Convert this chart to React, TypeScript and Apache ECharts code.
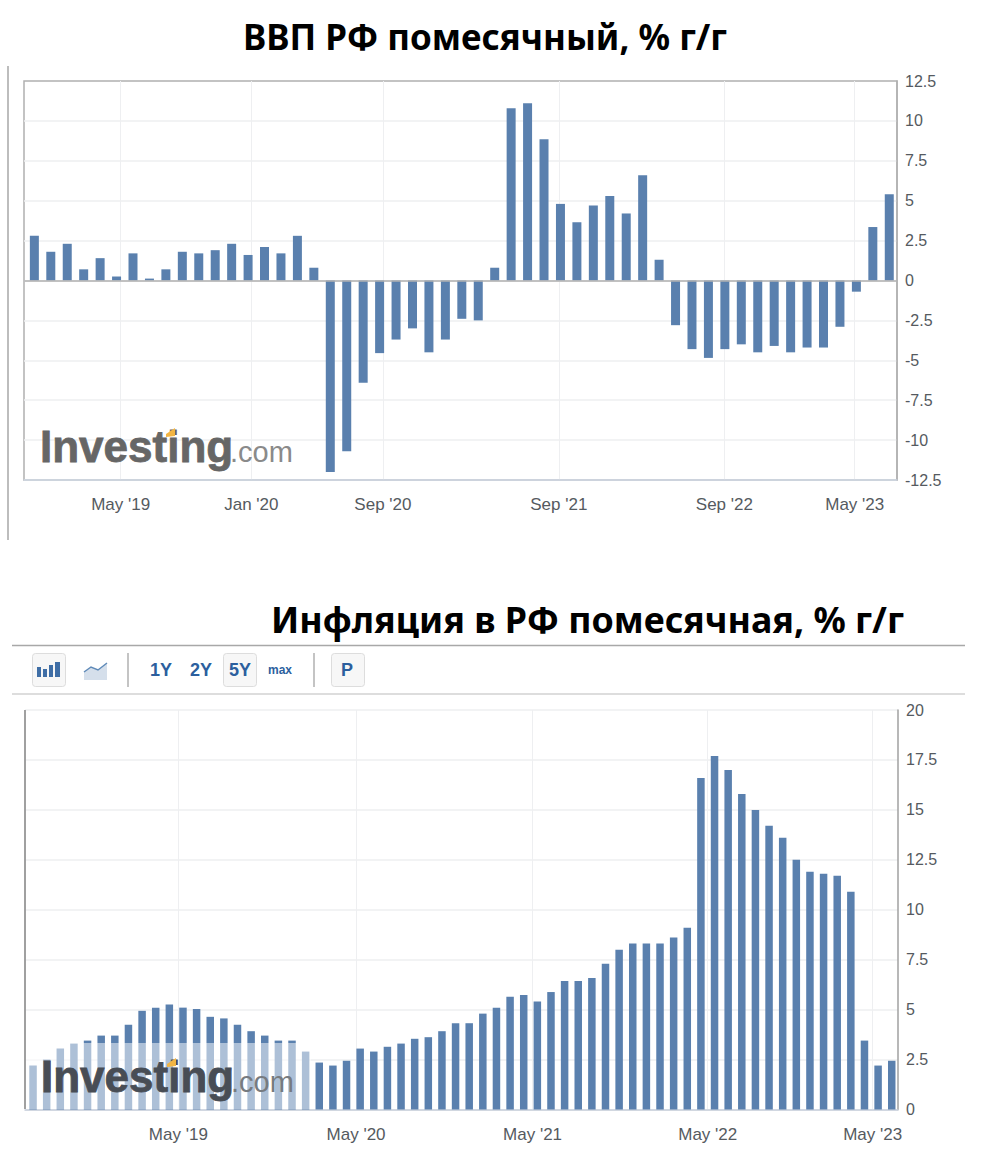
import React, { useEffect, useRef } from "react";
import * as echarts from "echarts";

const gdpValues = [
  2.8, 1.8, 2.3, 0.7, 1.4, 0.25, 1.7, 0.12, 0.7, 1.8, 1.7, 1.9, 2.3, 1.6, 2.1, 1.7, 2.8, 0.8,
  -12.0, -10.7, -6.4, -4.55, -3.7, -3.0, -4.5, -3.7, -2.4, -2.5, 0.8, 10.8, 11.1, 8.85, 4.8,
  3.65, 4.7, 5.3, 4.2, 6.6, 1.3, -2.8, -4.3, -4.85, -4.3, -4.0, -4.5, -4.1, -4.5, -4.2, -4.2,
  -2.9, -0.7, 3.35, 5.4,
];
const gdpTickPositions = [5.25, 13.2, 21.2, 31.9, 41.97, 49.9];
const gdpTickLabels = ["May '19", "Jan '20", "Sep '20", "Sep '21", "Sep '22", "May '23"];

const cpiValues = [
  2.2, 2.5, 3.05, 3.3, 3.45, 3.7, 3.7, 4.24, 4.94, 5.1, 5.26, 5.1, 5.03, 4.64, 4.56, 4.24, 3.92,
  3.7, 3.45, 3.45, 2.9, 2.35, 2.2, 2.44, 3.05, 2.9, 3.14, 3.3, 3.54, 3.62, 3.92, 4.32, 4.32, 4.8,
  5.1, 5.64, 5.73, 5.41, 5.88, 6.43, 6.43, 6.58, 7.3, 8.0, 8.31, 8.31, 8.31, 8.61, 9.1, 16.6,
  17.7, 17.0, 15.8, 15.0, 14.2, 13.6, 12.5, 11.9, 11.8, 11.7, 10.9, 3.45, 2.2, 2.44,
];
const cpiTickPositions = [10.66, 23.7, 36.65, 49.5, 61.6];
const cpiTickLabels = ["May '19", "May '20", "May '21", "May '22", "May '23"];

const title1 = "ВВП РФ помесячный, % г/г";
const title2 = "Инфляция в РФ помесячная, % г/г";
const rangeButtons = ["1Y", "2Y", "5Y"];

const BAR = "#5a80ae";
const LABEL = "#555a60";
const GRID = "#eeeff1";
const FONT = "'Liberation Sans', Arial, sans-serif";

function xAxis(gridIndex: number, min: number, max: number, ticks: number[], labels: string[]) {
  return {
    type: "value",
    gridIndex,
    min,
    max,
    axisLine: { show: true, onZero: false, lineStyle: { color: "#c6ceda", width: 1.5 } },
    axisTick: { show: false, customValues: ticks },
    splitLine: { show: true, lineStyle: { color: GRID, width: 1 } },
    axisLabel: {
      customValues: ticks,
      color: LABEL,
      fontFamily: FONT,
      fontSize: 17,
      margin: 16,
      formatter: (v: number) => labels[ticks.indexOf(v)] ?? "",
    },
  };
}

function yAxis(gridIndex: number, min: number, max: number, axisColor: string, showMaxLine: boolean) {
  return {
    type: "value",
    gridIndex,
    position: "right",
    min,
    max,
    interval: 2.5,
    axisLine: { show: true, onZero: false, lineStyle: { color: axisColor, width: 1.5 } },
    axisTick: { show: false },
    splitLine: { show: true, showMaxLine, lineStyle: { color: GRID, width: 1.5 } },
    axisLabel: { color: LABEL, fontFamily: FONT, fontSize: 16, margin: 8 },
  };
}

function logo(x: number, baseline: number, main: string, com: string) {
  return [
    {
      type: "text",
      z: 21,
      x,
      y: baseline - 38,
      style: {
        text: "Investing",
        font: `bold 44px ${FONT}`,
        fill: main,
        stroke: main,
        lineWidth: 0.8,
        align: "left",
        verticalAlign: "top",
      },
    },
    {
      type: "text",
      z: 21,
      x: x + 190,
      y: baseline - 25,
      style: {
        text: ".com",
        font: `29px ${FONT}`,
        fill: com,
        align: "left",
        verticalAlign: "top",
      },
    },
    {
      type: "polygon",
      z: 22,
      shape: {
        points: [
          [x + 126, baseline - 28],
          [x + 135, baseline - 34],
          [x + 135, baseline - 26],
          [x + 126, baseline - 25],
        ],
      },
      style: { fill: "#f2b544" },
    },
  ];
}

const hLine = (x1: number, x2: number, y: number, stroke: string, lineWidth = 1.5) => ({
  type: "line",
  z: 15,
  shape: { x1, y1: y, x2, y2: y },
  style: { stroke, lineWidth },
});
const vLine = (x: number, y1: number, y2: number, stroke: string, lineWidth = 1.5) => ({
  type: "line",
  z: 15,
  shape: { x1: x, y1, x2: x, y2 },
  style: { stroke, lineWidth },
});
const button = (x: number, y: number, w: number, h: number) => ({
  type: "rect",
  z: 15,
  shape: { x, y, width: w, height: h, r: 3 },
  style: { fill: "#f7f7f7", stroke: "#dddddd", lineWidth: 1 },
});
const toolText = (text: string, x: number, y: number, size = 18) => ({
  type: "text",
  z: 16,
  x,
  y,
  style: {
    text,
    font: `bold ${size}px ${FONT}`,
    fill: "#2c5f9e",
    align: "center",
    verticalAlign: "middle",
  },
});
const iconBar = (x: number, y: number, w: number, h: number) => ({
  type: "rect",
  z: 16,
  shape: { x, y, width: w, height: h },
  style: { fill: "#3f6ea6" },
});

function toolbar() {
  return [
    hLine(12, 965, 645.5, "#a8a8a8"),
    hLine(12, 965, 694, "#d2d2d2"),
    button(32.5, 653.5, 33, 33),
    iconBar(37, 667, 4, 10),
    iconBar(43, 669, 4, 8),
    iconBar(49, 665, 4, 12),
    iconBar(55, 662, 5, 15),
    {
      type: "polygon",
      z: 16,
      shape: {
        points: [[84, 672], [91, 667], [98, 670], [107, 663], [107, 680], [84, 680]],
      },
      style: { fill: "#d5dfeb" },
    },
    {
      type: "polyline",
      z: 17,
      shape: { points: [[84, 672], [91, 667], [98, 670], [107, 663]] },
      style: { stroke: "#5f8ab8", lineWidth: 1.5, fill: "none" },
    },
    vLine(128, 653, 687, "#c4c4c4", 2),
    button(223.5, 653.5, 33, 33),
    toolText(rangeButtons[0], 161, 670),
    toolText(rangeButtons[1], 201, 670),
    toolText(rangeButtons[2], 240, 670),
    toolText("max", 280, 670, 12),
    vLine(314, 653, 687, "#c4c4c4", 2),
    button(331.5, 653.5, 33, 33),
    toolText("P", 347, 670),
  ];
}

export default function App() {
  const ref = useRef<HTMLDivElement>(null);

  useEffect(() => {
    document.body.style.margin = "0";
    const chart = echarts.init(ref.current!, null, { renderer: "svg" });
    chart.setOption({
      animation: false,
      backgroundColor: "#ffffff",
      title: [
        {
          text: title1,
          left: 480,
          top: 14,
          textAlign: "center",
          textStyle: { fontFamily: "'Noto Sans'", fontWeight: "bold", fontSize: 35, color: "#000" },
        },
        {
          text: title2,
          left: 582.5,
          top: 596,
          textAlign: "center",
          textStyle: { fontFamily: "'Noto Sans'", fontWeight: "bold", fontSize: 35.8, color: "#000" },
        },
      ],
      grid: [
        {
          left: 24,
          top: 81,
          width: 873,
          height: 399,
          show: true,
          borderColor: "#b0b0b0",
          borderWidth: 1.5,
          containLabel: false,
        },
        { left: 25, top: 710, width: 873, height: 399.5, containLabel: false },
      ],
      xAxis: [
        xAxis(0, -0.63, 52.47, gdpTickPositions, gdpTickLabels),
        xAxis(1, -0.59, 63.46, cpiTickPositions, cpiTickLabels),
      ],
      yAxis: [yAxis(0, -12.5, 12.5, "#b0b0b0", false), yAxis(1, 0, 20, "#a0a0a0", true)],
      series: [
        {
          type: "bar",
          name: "ВВП",
          xAxisIndex: 0,
          yAxisIndex: 0,
          barWidth: 9,
          itemStyle: { color: BAR },
          data: gdpValues.map((v, i) => [i, v]),
          markLine: {
            silent: true,
            symbol: "none",
            label: { show: false },
            lineStyle: { color: "#b0b0b0", width: 1.5, type: "solid" },
            data: [{ yAxis: 0 }],
          },
        },
        {
          type: "bar",
          name: "Инфляция",
          xAxisIndex: 1,
          yAxisIndex: 1,
          barWidth: 7.5,
          itemStyle: { color: BAR },
          data: cpiValues.map((v, i) => [i, v]),
        },
      ],
      graphic: [
        vLine(8, 66, 540, "#bdbdbd", 2),
        vLine(25, 710, 1109, "#a0a0a0", 2),
        ...toolbar(),
        {
          type: "rect",
          z: 20,
          shape: { x: 26, y: 1043, width: 285, height: 66 },
          style: { fill: "rgba(255,255,255,0.5)" },
        },
        ...logo(40, 462, "#666666", "#8a8a8a"),
        ...logo(41, 1092, "#484d55", "#777b80"),
      ],
    });
    return () => chart.dispose();
  }, []);

  return <div ref={ref} style={{ width: 989, height: 1173 }} />;
}
